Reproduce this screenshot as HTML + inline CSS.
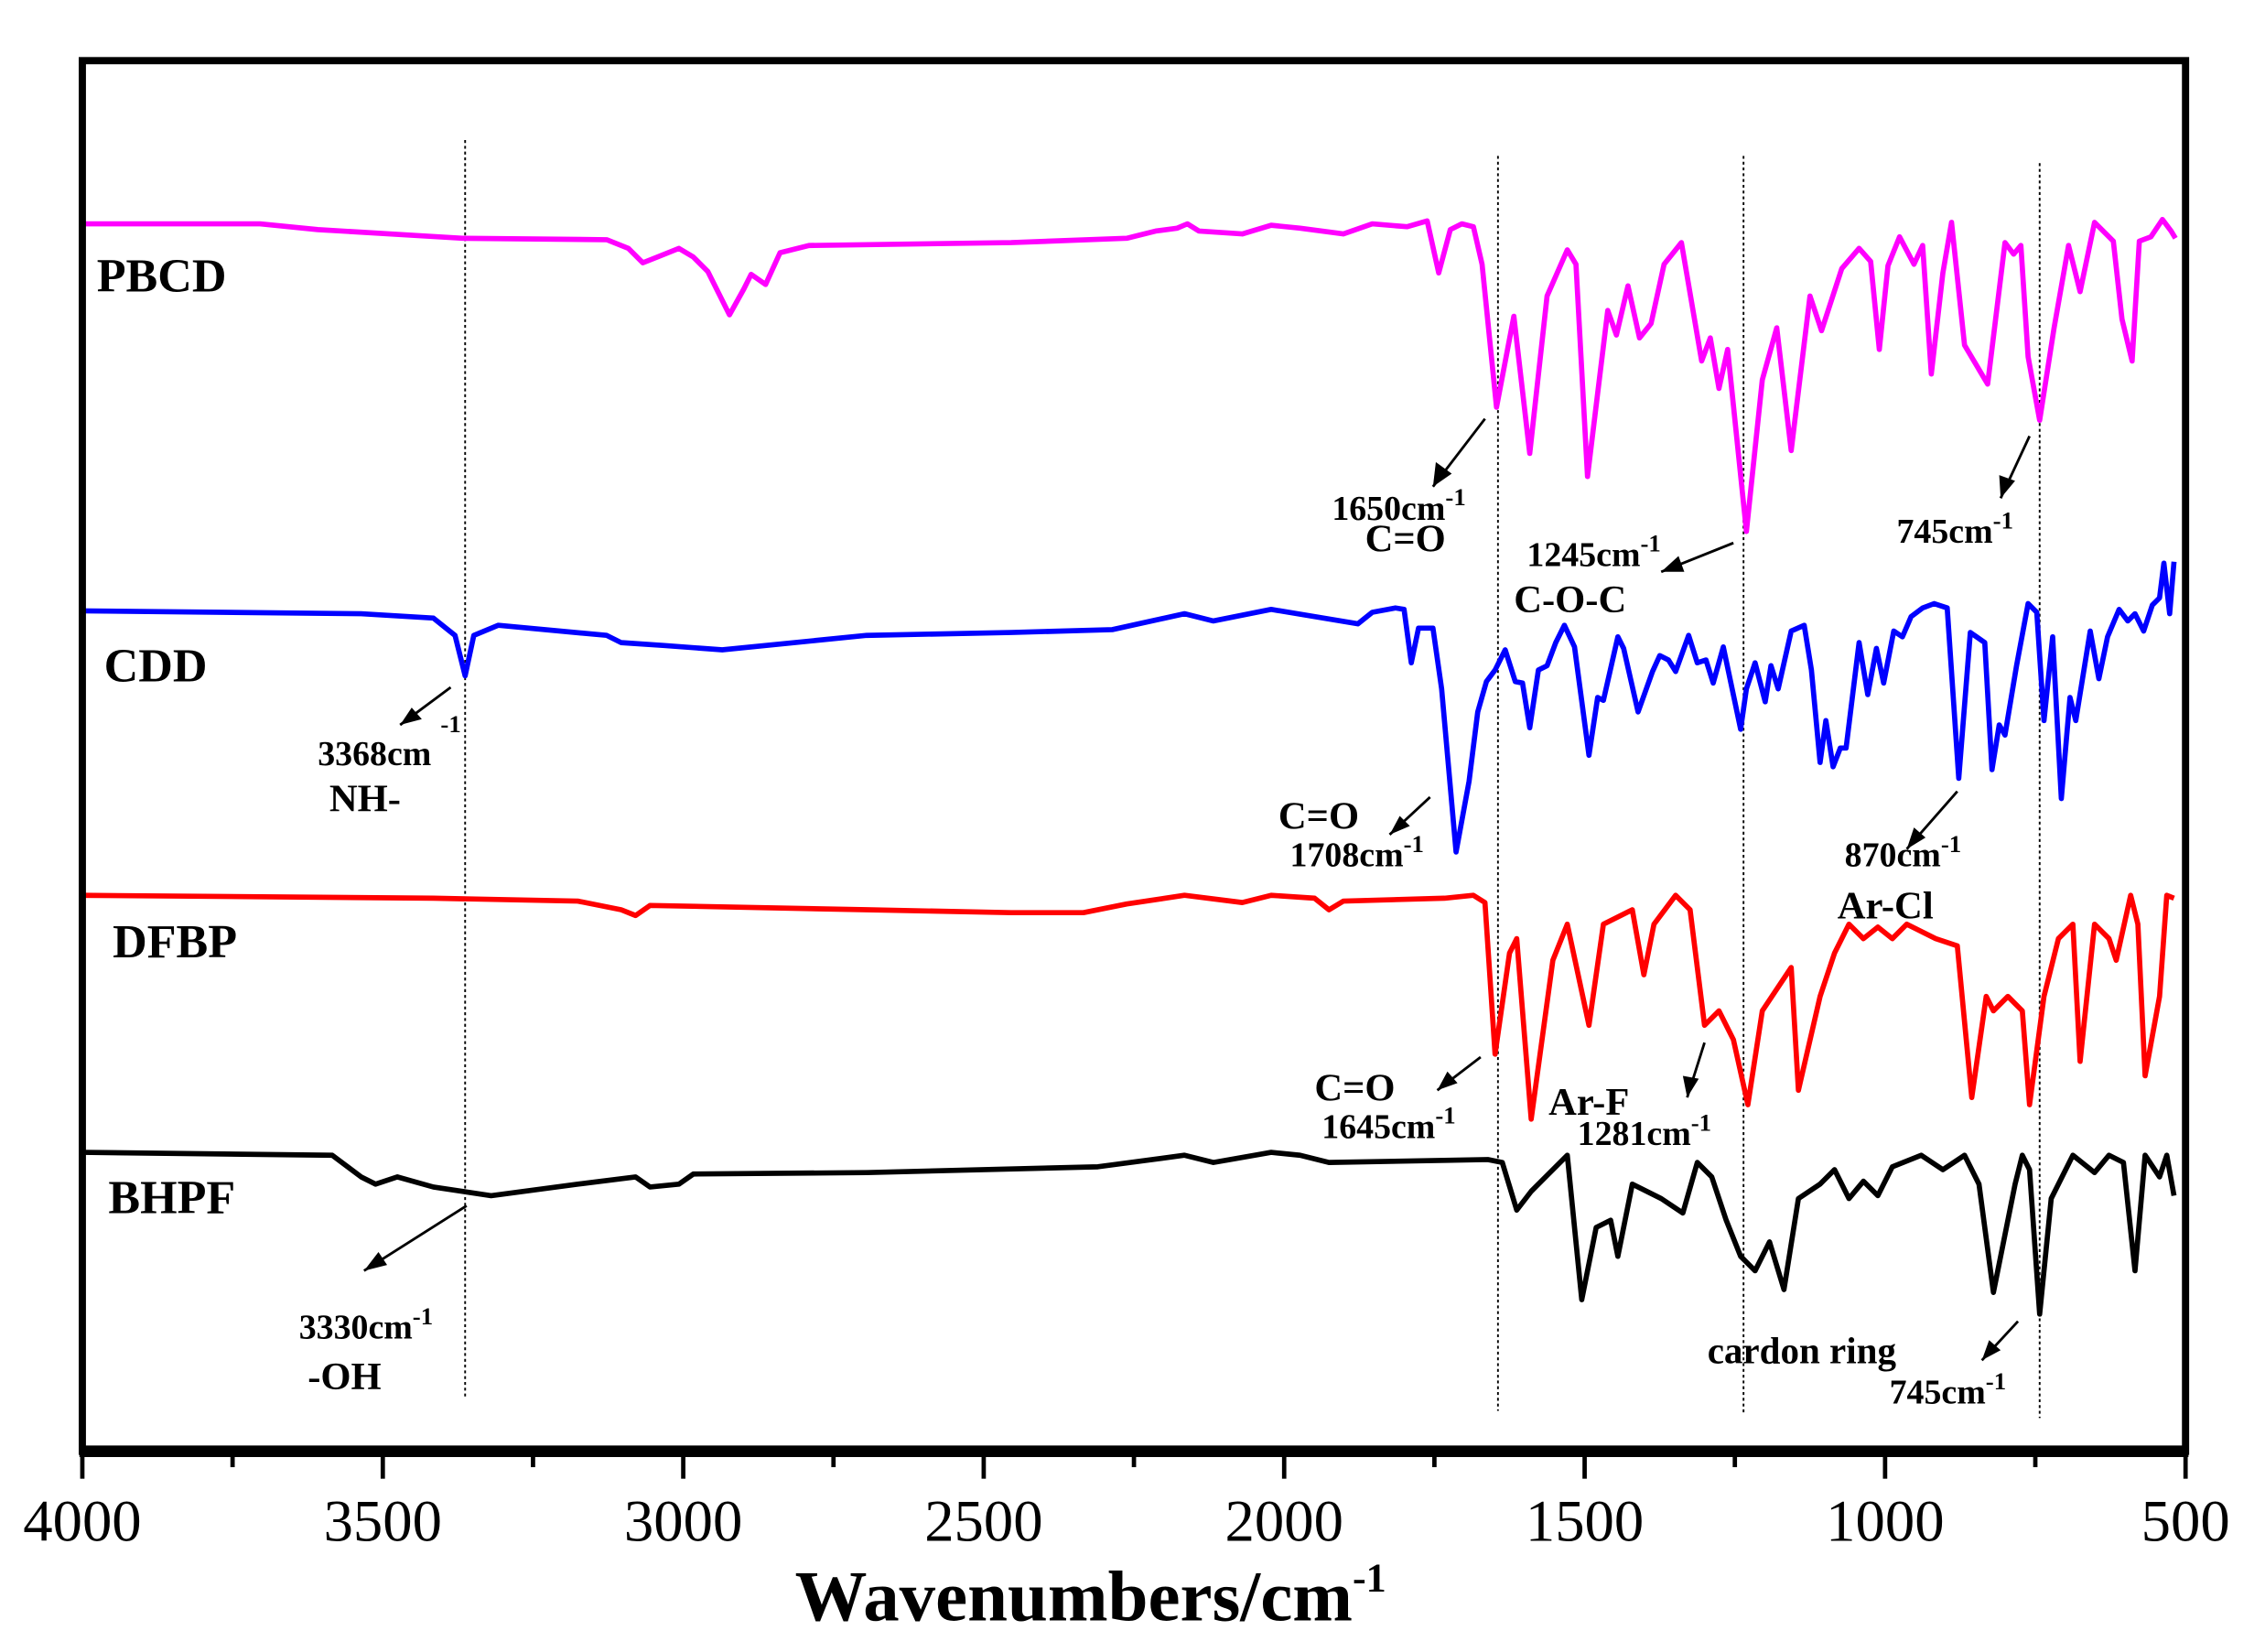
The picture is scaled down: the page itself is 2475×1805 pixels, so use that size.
<!DOCTYPE html>
<html><head><meta charset="utf-8"><style>html,body{margin:0;padding:0;background:#fff}svg{display:block}</style></head>
<body>
<svg width="2475" height="1805" viewBox="0 0 1568 1144" preserveAspectRatio="none" xmlns="http://www.w3.org/2000/svg" font-family="'Liberation Serif',serif" font-weight="bold">
<rect width="1568" height="1144" fill="#fff"/>
<g stroke="#000" stroke-width="1.2" stroke-dasharray="2,2" fill="none">
<line x1="322" y1="97" x2="322" y2="967"/><line x1="1037" y1="108" x2="1037" y2="977"/>
<line x1="1207" y1="108" x2="1207" y2="980"/><line x1="1412" y1="113" x2="1412" y2="982"/>
</g>
<g fill="none" stroke-width="3.6" stroke-linejoin="round">
<polyline stroke="#ff00ff" points="57,155 180,155 220,159 320,165 420,166 435,172 445,182 455,178 470,172 480,178 490,188 505,218 515,200 520,190 530,197 540,175 560,170 700,168 780,165 800,160 815,158 822,155 830,160 860,162 880,156 900,158 930,162 950,155 974,157 988,153 996,189 1004,159 1012,155 1020,157 1026,183 1036,282 1048,219 1059,314 1071,205 1085,173 1091,183 1099,330 1113,215 1119,232 1127,198 1135,234 1143,224 1152,183 1164,168 1178,250 1184,234 1190,269 1196,242 1209,368 1220,263 1230,227 1240,312 1253,205 1261,229 1275,186 1287,172 1295,181 1301,242 1307,184 1315,164 1325,183 1331,170 1337,259 1345,189 1351,154 1360,239 1376,266 1388,168 1394,176 1399,170 1404,247 1412,291 1422,227 1432,170 1440,202 1450,154 1463,167 1469,221 1476,250 1481,167 1489,164 1497,152 1503,160 1506,165"/>
<polyline stroke="#0000ff" points="57,423 250,425 300,428 315,440 322,468 328,440 345,433 420,440 430,445 460,447 500,450 600,440 700,438 770,436 820,425 840,430 880,422 940,432 950,424 966,421 972,422 977,459 982,435 992,435 998,477 1008,590 1017,541 1023,493 1029,472 1035,464 1042,450 1049,472 1054,473 1059,504 1065,464 1071,461 1077,445 1083,433 1090,448 1100,523 1106,483 1110,485 1120,441 1124,449 1134,493 1144,465 1149,454 1155,457 1160,465 1169,440 1175,459 1181,457 1186,473 1193,448 1205,505 1209,477 1215,459 1222,486 1226,461 1231,477 1240,437 1249,433 1254,464 1260,528 1264,499 1269,531 1274,518 1278,518 1287,445 1293,481 1299,449 1304,473 1311,437 1317,441 1323,427 1331,421 1339,418 1348,421 1356,539 1364,438 1374,445 1379,533 1384,502 1388,509 1396,461 1404,418 1410,424 1415,499 1421,441 1427,553 1433,483 1437,499 1447,437 1453,470 1459,441 1467,422 1473,430 1478,425 1484,437 1490,419 1495,414 1498,390 1502,425 1505,389"/>
<polyline stroke="#ff0000" points="57,620 300,622 400,624 430,630 440,634 450,627 600,630 700,632 750,632 780,626 820,620 860,625 880,620 910,622 920,630 930,624 1000,622 1020,620 1028,625 1035,730 1045,660 1050,650 1060,775 1075,665 1085,640 1100,710 1110,640 1130,630 1138,675 1145,640 1160,620 1170,630 1180,710 1190,700 1200,720 1210,765 1220,700 1240,670 1245,755 1260,690 1270,660 1280,640 1290,650 1300,642 1310,650 1320,640 1340,650 1355,655 1365,760 1375,690 1380,700 1390,690 1400,700 1405,765 1415,690 1425,650 1435,640 1440,735 1450,640 1460,650 1465,665 1475,620 1480,640 1485,745 1495,690 1500,620 1505,622"/>
<polyline stroke="#000" points="57,798 230,800 250,815 260,820 275,815 300,822 340,828 400,820 440,815 450,822 470,820 480,813 600,812 760,808 820,800 840,805 880,798 900,800 920,805 1030,803 1040,805 1050,838 1060,825 1070,815 1085,800 1095,900 1105,850 1115,845 1120,870 1130,820 1150,830 1165,840 1175,805 1185,815 1195,845 1205,870 1215,880 1225,860 1235,893 1245,830 1260,820 1270,810 1280,830 1290,818 1300,828 1310,808 1330,800 1345,810 1360,800 1370,820 1380,895 1395,820 1400,800 1405,810 1412,910 1420,830 1435,800 1450,812 1460,800 1470,805 1478,880 1485,800 1495,815 1500,800 1505,828"/>
</g>
<rect x="57" y="42" width="1456" height="963" fill="none" stroke="#000" stroke-width="5"/>
<line x1="55" y1="1005" x2="1515" y2="1005" stroke="#000" stroke-width="8"/>
<g stroke="#000" stroke-width="3">
<line x1="57" y1="1005" x2="57" y2="1024"/><line x1="265" y1="1005" x2="265" y2="1024"/><line x1="473" y1="1005" x2="473" y2="1024"/><line x1="681" y1="1005" x2="681" y2="1024"/><line x1="889" y1="1005" x2="889" y2="1024"/><line x1="1097" y1="1005" x2="1097" y2="1024"/><line x1="1305" y1="1005" x2="1305" y2="1024"/><line x1="1513" y1="1005" x2="1513" y2="1024"/>
<line x1="161" y1="1005" x2="161" y2="1016"/><line x1="369" y1="1005" x2="369" y2="1016"/><line x1="577" y1="1005" x2="577" y2="1016"/><line x1="785" y1="1005" x2="785" y2="1016"/><line x1="993" y1="1005" x2="993" y2="1016"/><line x1="1201" y1="1005" x2="1201" y2="1016"/><line x1="1409" y1="1005" x2="1409" y2="1016"/>
</g>
<g font-weight="normal" font-size="41" text-anchor="middle">
<text x="57" y="1067">4000</text><text x="265" y="1067">3500</text><text x="473" y="1067">3000</text><text x="681" y="1067">2500</text><text x="889" y="1067">2000</text><text x="1097" y="1067">1500</text><text x="1305" y="1067">1000</text><text x="1513" y="1067">500</text>
</g>
<text x="755" y="1122" font-size="50" text-anchor="middle">Wavenumbers/cm<tspan font-size="28" dy="-20">-1</tspan></text>
<g font-size="33"><text x="67" y="202">PBCD</text><text x="72" y="472">CDD</text><text x="78" y="663">DFBP</text><text x="75" y="840">BHPF</text></g>
<g font-size="24">
<text x="922" y="360">1650cm<tspan font-size="17" dy="-10">-1</tspan></text><text x="945" y="382" font-size="27">C=O</text>
<text x="1057" y="392">1245cm<tspan font-size="17" dy="-10">-1</tspan></text><text x="1048" y="424" font-size="27">C-O-C</text>
<text x="1313" y="376">745cm<tspan font-size="17" dy="-10">-1</tspan></text>
<text x="220" y="530">3368cm</text><text x="305" y="507" font-size="17">-1</text><text x="228" y="562" font-size="27">NH-</text>
<text x="885" y="574" font-size="27">C=O</text><text x="893" y="600">1708cm<tspan font-size="17" dy="-10">-1</tspan></text>
<text x="1277" y="600">870cm<tspan font-size="17" dy="-10">-1</tspan></text><text x="1272" y="636" font-size="27">Ar-Cl</text>
<text x="910" y="762" font-size="27">C=O</text><text x="915" y="788">1645cm<tspan font-size="17" dy="-10">-1</tspan></text>
<text x="1072" y="772" font-size="27">Ar-F</text><text x="1092" y="793">1281cm<tspan font-size="17" dy="-10">-1</tspan></text>
<text x="207" y="927">3330cm<tspan font-size="17" dy="-10">-1</tspan></text><text x="213" y="962" font-size="27">-OH</text>
<text x="1182" y="944" font-size="26">cardon ring</text><text x="1308" y="972">745cm<tspan font-size="17" dy="-10">-1</tspan></text>
</g>
<g stroke="#000" stroke-width="1.8">
<line x1="1028" y1="290" x2="992" y2="337"/><line x1="1200" y1="376" x2="1150" y2="396"/><line x1="1405" y1="302" x2="1385" y2="345"/><line x1="312" y1="476" x2="277" y2="502"/><line x1="990" y1="552" x2="962" y2="578"/><line x1="1355" y1="548" x2="1320" y2="588"/><line x1="1025" y1="732" x2="995" y2="755"/><line x1="1180" y1="722" x2="1168" y2="760"/><line x1="323" y1="835" x2="252" y2="880"/><line x1="1397" y1="915" x2="1372" y2="942"/>
</g>
<g fill="#000">
<polygon points="992,337 994,320 1005,328"/><polygon points="1150,396 1162,385 1166,396"/><polygon points="1385,345 1384,329 1395,333"/><polygon points="277,502 285,490 292,498"/><polygon points="962,578 969,565 976,572"/><polygon points="1320,588 1325,573 1333,580"/><polygon points="995,755 1002,742 1009,750"/><polygon points="1168,760 1165,745 1176,747"/><polygon points="252,880 262,867 268,876"/><polygon points="1372,942 1377,928 1385,935"/>
</g>
</svg>
</body></html>
